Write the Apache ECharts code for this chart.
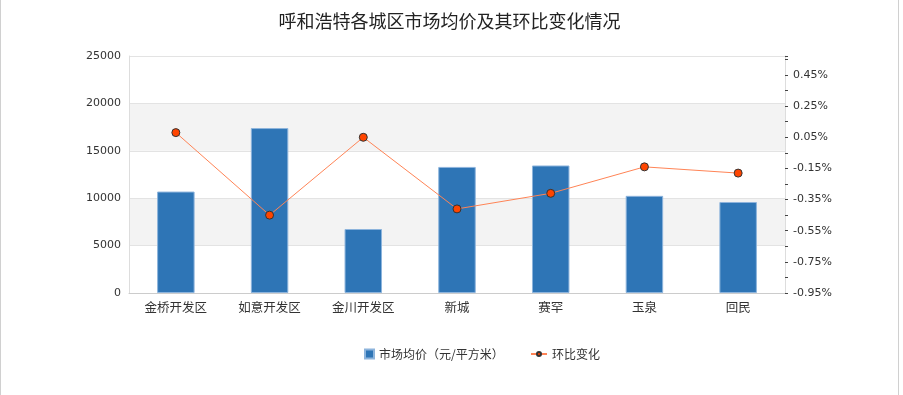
<!DOCTYPE html>
<html><head><meta charset="utf-8">
<script src="https://cdn.jsdelivr.net/npm/echarts@6/dist/echarts.min.js"></script>
<style>
html,body{margin:0;padding:0;background:#fff;}
#wrap{position:absolute;left:0;top:0;width:897px;height:395px;border-left:1px solid #d0d0d0;border-right:1px solid #d0d0d0;}
#c{width:897px;height:395px;}
</style></head>
<body><div id="wrap"><div id="c"></div></div>
<script>
const categories = ['金桥开发区','如意开发区','金川开发区','新城','赛罕','玉泉','回民'];
const avgPrice = [10700, 17400, 6750, 13300, 13450, 10250, 9600];
const momChange = [0.08, -0.45, 0.05, -0.41, -0.31, -0.14, -0.18];
const leftTicks = {min: 0, max: 25000, interval: 5000};
const rightTicks = {min: -0.95, max: 0.572, interval: 0.2};
const seriesNames = ['市场均价（元/平方米）', '环比变化'];

const numFont = 'DejaVu Sans';
const cjkFont = 'Noto Sans CJK SC';
const chart = echarts.init(document.getElementById('c'));
chart.setOption({
  animation: false,
  title: {text: '呼和浩特各城区市场均价及其环比变化情况', left: 'center', top: 7,
    textStyle: {fontSize: 18, fontWeight: 'normal', color: '#222', fontFamily: cjkFont}},
  grid: {left: 128, right: 113, top: 56, bottom: 102},
  legend: [
    {data: [{name: seriesNames[0], icon: 'rect'}], left: 358, top: 343, itemWidth: 9, itemHeight: 9, itemGap: 8,
      textStyle: {fontSize: 12, color: '#333', fontFamily: cjkFont}},
    {data: [seriesNames[1]], left: 524, top: 343, itemWidth: 16, itemHeight: 5, itemGap: 8,
      textStyle: {fontSize: 12, color: '#333', fontFamily: cjkFont}}
  ],
  xAxis: {type: 'category', data: categories,
    axisLine: {lineStyle: {color: '#ccc'}}, axisTick: {show: false},
    axisLabel: {fontSize: 12.5, color: '#333', margin: 8, fontFamily: cjkFont}},
  yAxis: [
    {type: 'value', min: leftTicks.min, max: leftTicks.max, interval: leftTicks.interval,
      axisLine: {show: true, lineStyle: {color: '#ddd'}}, axisTick: {show: false},
      axisLabel: {fontSize: 11, color: '#333', margin: 8, fontFamily: numFont, formatter: v => String(v)},
      splitLine: {lineStyle: {color: '#e3e3e3'}},
      splitArea: {show: true, areaStyle: {color: ['#ffffff', '#f3f3f3']}}},
    {type: 'value', min: rightTicks.min, max: rightTicks.max, interval: rightTicks.interval,
      position: 'right',
      axisLine: {show: true, lineStyle: {color: '#ddd'}},
      axisTick: {show: true, length: 3, lineStyle: {color: '#444'}},
      minorTick: {show: true, splitNumber: 2, length: 3, lineStyle: {color: '#444'}},
      axisLabel: {fontSize: 11, color: '#333', margin: 8, showMaxLabel: false, fontFamily: numFont,
        formatter: v => v.toFixed(2) + '%'},
      splitLine: {show: false}}
  ],
  series: [
    {name: seriesNames[0], type: 'bar', data: avgPrice, barWidth: '40%',
      itemStyle: {color: '#2e75b6', borderColor: '#8db4dc', borderWidth: 1}},
    {name: seriesNames[1], type: 'line', yAxisIndex: 1, data: momChange,
      symbol: 'circle', symbolSize: 8,
      lineStyle: {color: '#ff8456', width: 1},
      itemStyle: {color: '#ff4500', borderColor: '#333', borderWidth: 1}}
  ]
});
</script></body></html>
